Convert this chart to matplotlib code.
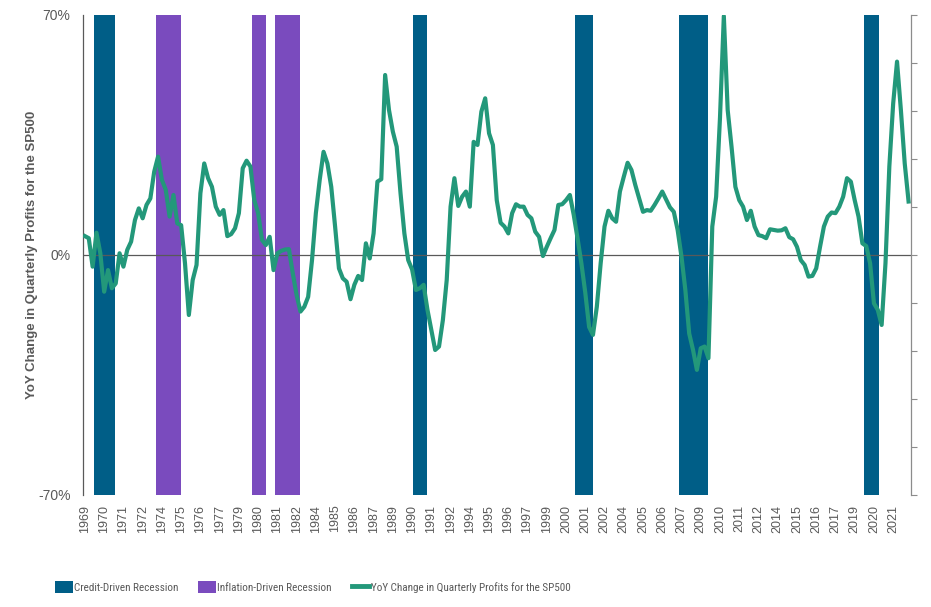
import matplotlib
matplotlib.use("Agg")
import matplotlib.pyplot as plt
from matplotlib import font_manager
from matplotlib.lines import Line2D
from matplotlib.patches import Patch
import numpy as np


# quarterly YoY change in S&P 500 profits (%), 1969Q1 .. 2022Q3
profit_yoy = [
    5.5, 4.9, -3.4, 6.5, 0.5, -10.7, -4.4, -9.7, -8.3, 0.5,
    -3.4, 1.5, 3.9, 10.2, 13.6, 10.7, 14.6, 16.5, 24.3, 28.7,
    21.9, 19.0, 11.2, 17.5, 9.2, 8.7, -2.4, -17.5, -7.3, -2.9,
    18.0, 26.7, 22.4, 19.9, 14.1, 11.7, 13.1, 5.5, 6.1, 7.8,
    12.2, 25.3, 27.5, 25.8, 16.0, 12.2, 4.4, 2.9, 5.3, -4.4,
    0.5, 1.2, 1.6, 1.7, -5.3, -11.7, -16.5, -15.1, -12.2, -1.5,
    12.2, 21.9, 30.1, 26.7, 19.9, 8.3, -3.9, -6.8, -7.8, -12.9,
    -8.7, -6.1, -7.3, 3.4, -1.0, 6.3, 21.4, 22.1, 52.5, 42.3,
    36.0, 31.6, 18.0, 6.3, -1.5, -4.2, -10.2, -9.7, -8.7, -16.0,
    -21.9, -27.7, -26.7, -19.0, -7.3, 14.1, 22.4, 14.3, 17.0, 18.5,
    14.1, 33.0, 32.1, 41.8, 45.7, 35.5, 32.1, 16.0, 9.4, 8.3,
    6.3, 12.2, 14.8, 14.1, 14.1, 11.7, 10.7, 6.8, 5.3, -0.3,
    2.4, 4.9, 7.3, 14.6, 14.8, 16.0, 17.5, 11.7, 4.8, -2.5,
    -11.0, -21.0, -23.3, -15.1, -2.4, 8.3, 12.9, 10.7, 9.7, 18.5,
    22.8, 26.9, 24.8, 20.4, 16.5, 12.6, 13.1, 12.9, 14.6, 16.5,
    18.5, 16.2, 13.9, 12.6, 7.3, -0.5, -10.2, -22.9, -27.7, -33.5,
    -27.2, -26.7, -30.1, 8.3, 17.0, 40.0, 69.7, 42.3, 31.6, 19.9,
    16.0, 14.1, 10.2, 12.9, 8.3, 5.8, 5.5, 4.9, 7.5, 7.3,
    7.1, 7.2, 7.8, 5.2, 4.6, 2.4, -1.5, -2.9, -6.3, -6.1,
    -3.9, 2.4, 8.3, 11.2, 12.4, 12.2, 14.1, 17.0, 22.4, 21.4,
    16.0, 11.2, 3.4, 2.6, -2.4, -14.1, -16.0, -20.4, -2.4, 25.8,
    44.2, 56.4, 42.3, 26.7, 15.6,
]
first_year = 1969

# recession shading, decimal years (start, end)
credit_recessions = [(1969.59, 1970.96), (1990.33, 1991.23), (2000.85, 2002.03),
                     (2007.60, 2009.50), (2019.63, 2020.55)]
inflation_recessions = [(1973.62, 1975.23), (1979.88, 1980.75), (1981.35, 1982.95)]

CREDIT = "#005e87"
INFLATION = "#7a4bbe"
LINE = "#23987a"
GREY = "#595959"


def pick_narrow():
    for name in ["Liberation Sans Narrow", "Roboto Condensed", "Open Sans Condensed"]:
        try:
            font_manager.findfont(name, fallback_to_default=False)
            return [name, "DejaVu Sans"]
        except Exception:
            pass
    return ["Liberation Sans", "DejaVu Sans"]


def main() -> None:
    plt.rcParams["font.family"] = ["Liberation Sans", "DejaVu Sans"]

    n = len(profit_yoy)
    x = first_year + np.arange(n) / 4.0

    fig = plt.figure(figsize=(9.31, 6.07), dpi=100)
    ax = fig.add_axes([83 / 931, 1 - 495 / 607, (910.5 - 83) / 931, 480 / 607])

    for s, e in credit_recessions:
        ax.axvspan(s, e, color=CREDIT, lw=0, zorder=1)
    for s, e in inflation_recessions:
        ax.axvspan(s, e, color=INFLATION, lw=0, zorder=1)

    ax.axhline(0, color=GREY, lw=0.9, zorder=2)
    ax.plot(x, profit_yoy, color=LINE, lw=3.0, zorder=3, solid_joinstyle="round")

    ax.set_xlim(x[0] - 0.125, x[-1] + 0.125)
    ax.set_ylim(-70, 70)
    ax.set_yticks([-70, 0, 70])
    ax.set_yticklabels(["-70%", "0%", "70%"])
    ax.tick_params(axis="y", length=0, pad=9, labelsize=10, labelcolor=GREY)

    tick_x = x[::5]
    ax.set_xticks(tick_x)
    ax.set_xticklabels([str(int(v)) for v in tick_x], rotation=90)
    ax.tick_params(axis="x", length=0, pad=7, labelsize=9, labelcolor=GREY)

    for side in ["top", "right", "bottom"]:
        ax.spines[side].set_visible(False)
    ax.spines["left"].set_color(GREY)
    ax.spines["left"].set_linewidth(0.9)

    ax.set_ylabel("YoY Change in Quarterly Profits for the SP500",
                  fontsize=9.5, fontweight="bold", color=GREY, labelpad=0)

    ax2 = ax.twinx()
    ax2.set_ylim(-1, 1)
    ax2.set_yticks(np.linspace(-1, 1, 11))
    ax2.set_yticklabels([])
    ax2.tick_params(axis="y", length=4, width=0.8, color="#8c8c8c", direction="out")
    for side in ["top", "left", "bottom"]:
        ax2.spines[side].set_visible(False)
    ax2.spines["right"].set_color("#8c8c8c")
    ax2.spines["right"].set_linewidth(0.9)

    handles = [
        Patch(facecolor=CREDIT, edgecolor="none", label="Credit-Driven Recession"),
        Patch(facecolor=INFLATION, edgecolor="none", label="Inflation-Driven Recession"),
        Line2D([], [], color=LINE, lw=3.5, label="YoY Change in Quarterly Profits for the SP500"),
    ]
    fig.legend(
        handles=handles,
        loc="center left",
        bbox_to_anchor=(55 / 931, 1 - 587 / 607),
        ncol=3,
        frameon=False,
        prop={"family": pick_narrow(), "size": 8},
        labelcolor=GREY,
        handlelength=1.6,
        handleheight=1.2,
        handletextpad=0.1,
        columnspacing=1.8,
        borderpad=0,
        borderaxespad=0,
    )

    fig.savefig("out.png", dpi=100)
    plt.close(fig)


if __name__ == "__main__":
    main()
